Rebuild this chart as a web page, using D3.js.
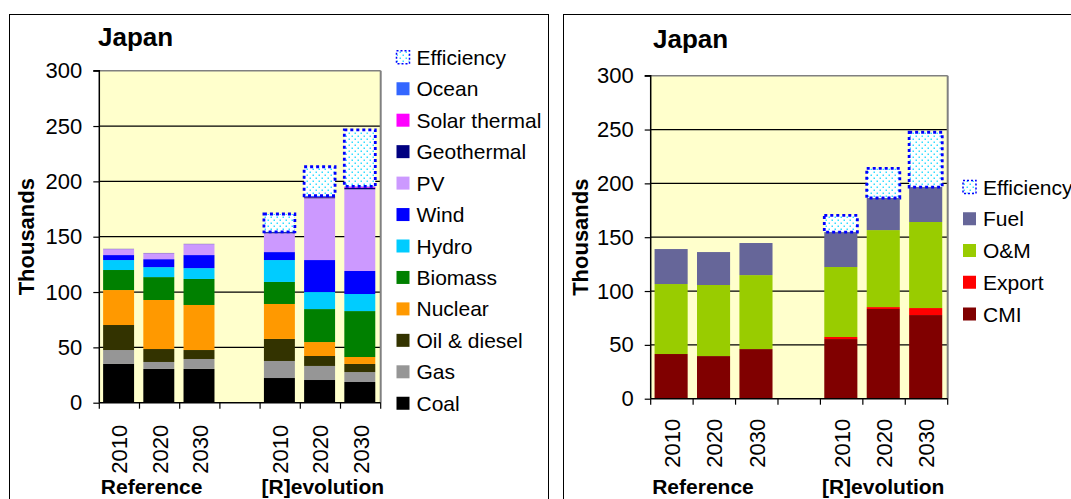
<!DOCTYPE html>
<html><head><meta charset="utf-8">
<script src="https://cdn.jsdelivr.net/npm/d3@7"></script>
<style>
body{margin:0;background:#fff;overflow:hidden}
svg{display:block}
text{font-family:"Liberation Sans", Arial, sans-serif; fill:#000}
</style>
</head><body>
<svg id="chart" width="1071" height="499"></svg>
<script>
// ---------- data ----------
const categories = ["Ref 2010","Ref 2020","Ref 2030","gap","Rev 2010","Rev 2020","Rev 2030"];
const tickLabels = ["2010","2020","2030","","2010","2020","2030"];
const groupLabels = ["Reference","[R]evolution"];
const groupStart = [0, 4];
const yTicks = [0,50,100,150,200,250,300];
const title = "Japan";
const yTitle = "Thousands";

// left chart (by technology), bottom to top
const coal         = [35.0, 30.5, 30.5, 0, 22.3, 20.5, 18.7];
const gas          = [12.6,  6.3,  9.0, 0, 15.4, 12.7,  9.0];
const oilDiesel    = [22.6, 11.7,  8.1, 0, 19.9,  9.0,  7.3];
const nuclear      = [31.6, 44.3, 40.7, 0, 31.6, 12.6,  6.3];
const biomass      = [18.1, 20.7, 23.5, 0, 19.9, 29.8, 41.5];
const hydro        = [ 9.0,  9.0,  9.8, 0, 19.8, 15.4, 15.4];
const wind         = [ 4.5,  7.2, 11.8, 0,  7.2, 28.9, 20.8];
const pv           = [ 5.4,  5.4,  9.9, 0, 17.0, 55.8, 73.8];
const geothermal   = [ 0.2,  0.2,  0.2, 0,  1.0,  1.0,  1.5];
const solarThermal = [ 0,    0,    0,   0,  0,    0.2,  0.7];
const ocean        = [ 0,    0,    0,   0,  0.3,  1.1,  0.5];
const efficiencyL  = [ 0,    0,    0,   0, 16.1, 26.2, 51.0];

// right chart (by type of job), bottom to top
const cmi          = [41.5, 39.6, 46.1, 0, 55.4, 83.3, 77.7];
const exportJobs   = [ 0,    0,    0,   0,  1.9,  1.8,  6.5];
const om           = [65.0, 66.0, 68.7, 0, 65.0, 71.5, 79.9];
const fuel         = [32.5, 30.6, 29.8, 0, 32.5, 29.8, 32.5];
const efficiencyR  = [ 0,    0,    0,   0, 15.5, 27.5, 50.9];

const leftSeries = [
  {name:"Coal", values:coal, color:"#000000"},
  {name:"Gas", values:gas, color:"#969696"},
  {name:"Oil & diesel", values:oilDiesel, color:"#333300"},
  {name:"Nuclear", values:nuclear, color:"#ff9900"},
  {name:"Biomass", values:biomass, color:"#008000"},
  {name:"Hydro", values:hydro, color:"#00ccff"},
  {name:"Wind", values:wind, color:"#0000ff"},
  {name:"PV", values:pv, color:"#cc99ff"},
  {name:"Geothermal", values:geothermal, color:"#000080"},
  {name:"Solar thermal", values:solarThermal, color:"#ff00ff"},
  {name:"Ocean", values:ocean, color:"#3366ff"},
  {name:"Efficiency", values:efficiencyL, color:"eff"}
];
const rightSeries = [
  {name:"CMI", values:cmi, color:"#800000"},
  {name:"Export", values:exportJobs, color:"#ff0000"},
  {name:"O&M", values:om, color:"#99cc00"},
  {name:"Fuel", values:fuel, color:"#666699"},
  {name:"Efficiency", values:efficiencyR, color:"eff"}
];

// ---------- drawing ----------
const svg = d3.select("#chart");
const defs = svg.append("defs");
const pat = defs.append("pattern").attr("id","effPat").attr("patternUnits","userSpaceOnUse")
  .attr("width",6).attr("height",6);
pat.append("rect").attr("width",6).attr("height",6).attr("fill","#ffffff");
pat.append("rect").attr("x",0.5).attr("y",0.5).attr("width",1.5).attr("height",1.5).attr("fill","#33ddff");
pat.append("rect").attr("x",3.5).attr("y",3.5).attr("width",1.5).attr("height",1.5).attr("fill","#33ddff");

function fillOf(c){ return c === "eff" ? "url(#effPat)" : c; }

function drawPanel(cfg){
  const g = svg.append("g");
  // panel border
  g.append("rect").attr("x",cfg.box[0]).attr("y",cfg.box[1]).attr("width",cfg.box[2]).attr("height",cfg.box[3])
    .attr("fill","#fff").attr("stroke","#000").attr("stroke-width",1);

  const x = d3.scaleBand().domain(categories).range([cfg.x0, cfg.x1]).padding(0);
  const y = d3.scaleLinear().domain([0,300]).range([cfg.y1, cfg.y0]);

  // plot background
  g.append("rect").attr("x",cfg.x0).attr("y",cfg.y0).attr("width",cfg.x1-cfg.x0).attr("height",cfg.y1-cfg.y0)
    .attr("fill","#ffffcc");
  // gridlines
  g.selectAll(".grid").data(yTicks.filter(t=>t>0 && t<300)).enter().append("line")
    .attr("x1",cfg.x0).attr("x2",cfg.x1).attr("y1",d=>y(d)).attr("y2",d=>y(d))
    .attr("stroke","#000").attr("stroke-width",1.2);

  // stacked bars
  const rows = categories.map((c,i)=>{
    const r = {cat:c};
    cfg.series.forEach(s=>{ r[s.name] = s.values[i]; });
    return r;
  });
  const stack = d3.stack().keys(cfg.series.map(s=>s.name))(rows);
  const bw = x.bandwidth()*cfg.barFrac;
  const off = (x.bandwidth()-bw)/2 - 0.8;
  stack.forEach((layer,li)=>{
    const s = cfg.series[li];
    const isEff = s.color === "eff";
    g.append("g").selectAll("rect").data(layer.filter(d=>d[1]-d[0]>0)).enter().append("rect")
      .attr("x",d=>x(d.data.cat)+off)
      .attr("width",bw)
      .attr("y",d=>y(d[1]))
      .attr("height",d=>y(d[0])-y(d[1]))
      .attr("fill",fillOf(s.color))
      .attr("stroke",isEff?"#0000ff":"none")
      .attr("stroke-width",isEff?2.8:0)
      .attr("stroke-dasharray",isEff?"3,3":null);
  });

  // plot border (top/right gray), axes black
  g.append("line").attr("x1",cfg.x0).attr("x2",cfg.x1).attr("y1",cfg.y0).attr("y2",cfg.y0).attr("stroke","#808080").attr("stroke-width",1.5);
  g.append("line").attr("x1",cfg.x1).attr("x2",cfg.x1).attr("y1",cfg.y0).attr("y2",cfg.y1).attr("stroke","#808080").attr("stroke-width",2);

  // y axis
  const yAxis = d3.axisLeft(y).tickValues(yTicks).tickSize(6).tickPadding(11).tickFormat(d3.format("d"));
  const ya = g.append("g").attr("transform",`translate(${cfg.x0},0)`).call(yAxis);
  ya.select(".domain").attr("stroke","#000").attr("stroke-width",1.5).attr("d",`M-6,${cfg.y0}H0V${cfg.y1}`);
  ya.selectAll(".tick line").attr("stroke","#000").attr("stroke-width",1.2);
  ya.selectAll(".tick text").attr("font-size",22).attr("font-family","Liberation Sans, Arial, sans-serif").attr("fill","#000");

  // x axis (ticks at band edges)
  g.append("line").attr("x1",cfg.x0).attr("x2",cfg.x1).attr("y1",cfg.y1).attr("y2",cfg.y1).attr("stroke","#000").attr("stroke-width",1.5);
  const edges = categories.map(c=>x(c)).concat([cfg.x1]);
  g.selectAll(".xt").data(edges).enter().append("line")
    .attr("x1",d=>d).attr("x2",d=>d).attr("y1",cfg.y1).attr("y2",cfg.y1+6)
    .attr("stroke","#000").attr("stroke-width",1.2);
  g.selectAll(".xl").data(categories).enter().append("text")
    .attr("transform",(d)=>`translate(${x(d)+x.bandwidth()/2},${cfg.y1+cfg.yearOff}) rotate(-90)`)
    .attr("text-anchor","end").attr("dy","0.36em").attr("font-size",22)
    .text((d,i)=>tickLabels[i]);
  // group labels
  g.selectAll(".gl").data(groupLabels).enter().append("text")
    .attr("x",(d,i)=>x(categories[groupStart[i]])+1.5).attr("y",494)
    .attr("font-size",21).attr("font-weight","bold").text(d=>d);

  // title
  g.append("text").attr("x",cfg.titleX).attr("y",cfg.titleY).attr("font-size",26).attr("font-weight","bold").text(title);
  // y title
  g.append("text").attr("transform",`translate(${cfg.yTitleX},${(cfg.y0+cfg.y1)/2}) rotate(-90)`)
    .attr("text-anchor","middle").attr("font-size",22).attr("font-weight","bold").text(yTitle);

  // legend (reverse order)
  const leg = cfg.series.slice().reverse();
  const lg = g.append("g");
  leg.forEach((s,i)=>{
    const cy = cfg.legY + i*cfg.legStep;
    const isEff = s.color==="eff";
    lg.append("rect").attr("x",cfg.legX).attr("y",cy-6.5).attr("width",13).attr("height",13)
      .attr("fill",fillOf(s.color))
      .attr("stroke",isEff?"#0000ff":"none").attr("stroke-width",isEff?1.5:0)
      .attr("stroke-dasharray",isEff?"2,2":null);
    lg.append("text").attr("x",cfg.legX+20).attr("y",cy).attr("dy","0.36em").attr("font-size",21).text(s.name);
  });
}

drawPanel({
  box:[9.5,14.5,539,500],
  x0:99.3, x1:380.7, y0:70.7, y1:402.7,
  series:leftSeries, barFrac:0.77, yearOff:22,
  titleX:98, titleY:46, yTitleX:34,
  legX:396.5, legY:57.3, legStep:31.45
});
drawPanel({
  box:[563.5,14.5,600,500],
  x0:650.7, x1:947.7, y0:75.7, y1:398.7,
  series:rightSeries, barFrac:0.78, yearOff:20,
  titleX:653, titleY:48, yTitleX:588,
  legX:963, legY:187, legStep:31.75
});
</script>
</body></html>
